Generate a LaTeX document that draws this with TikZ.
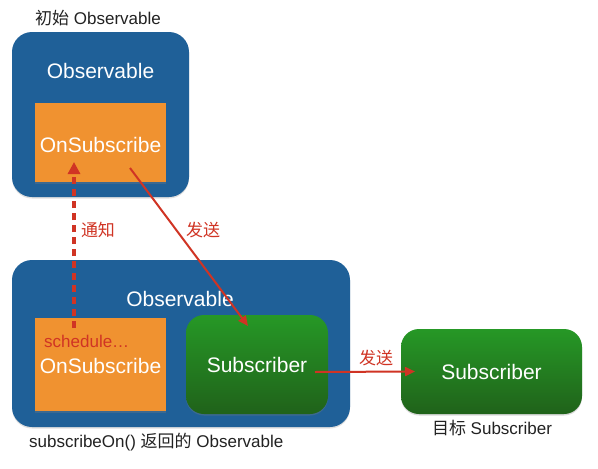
\documentclass[tikz,border=0pt]{standalone}
\usepackage{fontspec}
\setmainfont{Liberation Sans}
\newfontfamily\cjk{Noto Sans CJK SC}
\usetikzlibrary{arrows.meta,shadows}
\definecolor{obsblue}{RGB}{31,96,152}
\definecolor{osorange}{RGB}{240,146,48}
\definecolor{gtop}{RGB}{38,152,38}
\definecolor{gbot}{RGB}{32,98,26}
\definecolor{redline}{RGB}{208,52,36}
\definecolor{darktext}{RGB}{34,34,34}
\tikzset{
  obsbox/.style={draw=none,fill=obsblue,rounded corners=20pt,minimum width=#1,inner sep=0pt,
    drop shadow={shadow xshift=0pt,shadow yshift=-1.5pt,opacity=0.25}},
  osbox/.style={draw=none,fill=osorange,inner sep=0pt,text=white,font=\fontsize{21}{25}\selectfont,
    drop shadow={shadow xshift=0pt,shadow yshift=-1.5pt,opacity=0.3}},
  subbox/.style={draw=none,top color=gtop,bottom color=gbot,rounded corners=18pt,inner sep=0pt,text=white,
    font=\fontsize{21}{25}\selectfont,
    drop shadow={shadow xshift=0pt,shadow yshift=-1.5pt,opacity=0.3}},
  boxtitle/.style={text=white,font=\fontsize{21}{25}\selectfont,inner sep=0pt},
  caption/.style={text=darktext,font=\fontsize{17}{20}\selectfont,inner sep=0pt},
  redlabel/.style={text=redline,font=\fontsize{17}{20}\selectfont,inner sep=0pt},
  redarrow/.style={draw=redline,line width=2pt,-{Triangle[length=10pt,width=9pt]}},
}
\begin{document}
\begin{tikzpicture}[x=1pt,y=-1pt]
\useasboundingbox[fill=white] (0,0) rectangle (598,469);
% top observable
\node[caption,anchor=west] (cap1) at (35,18) {{\cjk 初始} Observable};
\node[obsbox=177pt,minimum height=165pt] (obs1) at (100.5,114.5) {};
\node[boxtitle] (t1) at (100.5,71) {Observable};
\node[osbox,minimum width=131pt,minimum height=79pt] (os1) at (100.5,142.5) {};
\node[boxtitle] (os1t) at (100.5,145) {OnSubscribe};
% bottom observable
\node[obsbox=338pt,minimum height=167pt] (obs2) at (181,343.5) {};
\node[boxtitle] (t2) at (180,299) {Observable};
\node[osbox,minimum width=131pt,minimum height=93pt] (os2) at (100.5,364.5) {};
\node[boxtitle] (os2t) at (100.5,366) {OnSubscribe};
\node[redlabel,anchor=west] (sch) at (44,341) {schedule…};
\node[subbox,minimum width=142pt,minimum height=99pt] (sub1) at (257,364.5) {Subscriber};
\node[caption,anchor=west] (cap2) at (29,442) {subscribeOn() {\cjk 返回的} Observable};
% target subscriber
\node[subbox,minimum width=181pt,minimum height=85pt] (sub2) at (491.5,371.5) {Subscriber};
\node[caption] (cap3) at (492,428) {{\cjk 目标} Subscriber};
% arrows
\coordinate (nfrom) at (74,328);
\coordinate (nto) at (74,162);
\draw[draw=redline,line width=3.5pt,dash pattern=on 7pt off 5pt,-{Triangle[length=12pt,width=12pt]}] (nfrom) -- (nto);
\node[redlabel] (l1) at (98,230) {\cjk 通知};
\coordinate (sfrom) at (130,168);
\coordinate (sto) at (248,326);
\draw[redarrow] (sfrom) -- (sto);
\node[redlabel] (l2) at (203,230) {\cjk 发送};
\coordinate (hfrom) at (315,372);
\draw[redarrow] (hfrom) -- (sub2.west -| 415,0);
\node[redlabel] (l3) at (376,358) {\cjk 发送};
\end{tikzpicture}
\end{document}
